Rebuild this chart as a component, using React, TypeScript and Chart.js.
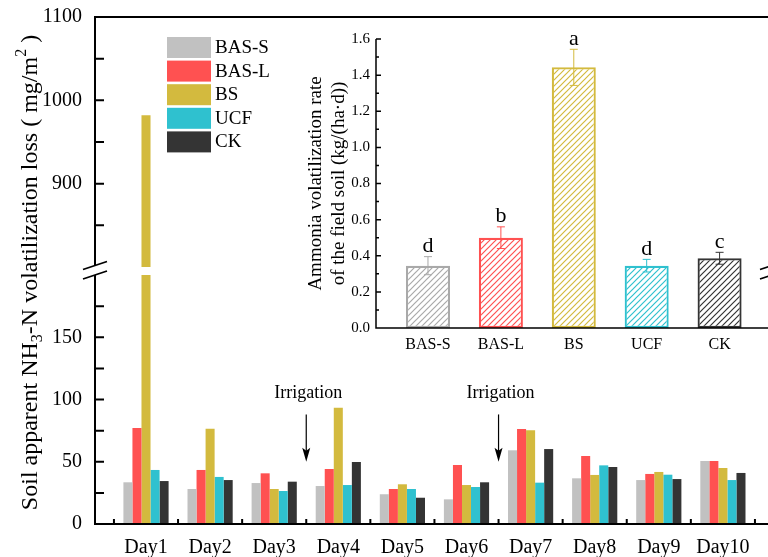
import React, { useEffect, useRef } from 'react';
import { Chart, registerables, LinearScale } from 'chart.js';

const FONT = '"Liberation Serif", "Times New Roman", Times, serif';

// ---------- main chart data ----------
const days = ['Day1', 'Day2', 'Day3', 'Day4', 'Day5', 'Day6', 'Day7', 'Day8', 'Day9', 'Day10'];
const seriesNames = ['BAS-S', 'BAS-L', 'BS', 'UCF', 'CK'];
const seriesColors = ['#c1c1c1', '#ff5151', '#d3ba3e', '#2fc1cf', '#343434'];
const basS = [33.5, 28.1, 32.9, 30.5, 23.9, 19.8, 59.2, 36.7, 35.3, 50.6];
const basL = [77.1, 43.4, 40.7, 44.2, 28.1, 47.4, 76.3, 54.6, 40.2, 50.6];
const bs = [982, 76.5, 28.1, 93.4, 31.9, 31.3, 75.3, 39.4, 41.8, 45.0];
const ucf = [43.4, 37.8, 26.5, 31.3, 28.1, 29.7, 33.2, 47.1, 39.6, 35.3];
const ck = [34.5, 35.3, 34.0, 49.8, 21.1, 33.5, 60.2, 45.8, 36.1, 41.0];
const seriesValues = [basS, basL, bs, ucf, ck];

const yMajorTicks = [0, 50, 100, 150, 900, 1000, 1100];
const yMinorTicks = [25, 75, 125, 175, 850, 950, 1050];
const breakLow = 200;
const breakHigh = 800;
const yMax = 1100;
const lowerFrac = 249 / 507;
const upperFrac = 257 / 507;

const xMin = 0.2044;
const xMax = 10.766;
const xTickMarks = [0.5, 1.5, 2.5, 3.5, 4.5, 5.5, 6.5, 7.5, 8.5, 9.5, 10.5];

const irrigationX = [3.5, 6.5];
const irrigationLabel = 'Irrigation';
const irrigationArrowTop = 88;
const irrigationArrowBottom = 50;
const irrigationTextY = 105;

// ---------- inset data ----------
const insetCategories = ['BAS-S', 'BAS-L', 'BS', 'UCF', 'CK'];
const insetValues = [0.345, 0.5, 1.443, 0.345, 0.386];
const insetErrors = [0.05, 0.06, 0.1, 0.035, 0.033];
const insetLetters = ['d', 'b', 'a', 'd', 'c'];
const insetColors = ['#a9a9a9', '#ff5151', '#d3ba3e', '#2fc1cf', '#343434'];
const insetYTicks = [0, 0.2, 0.4, 0.6, 0.8, 1.0, 1.2, 1.4, 1.6];
const insetYMinor = [0.1, 0.3, 0.5, 0.7, 0.9, 1.1, 1.3, 1.5];
const insetXMin = -0.713;
const insetXMax = 4.719;

class BrokenLinearScale extends LinearScale {
  static id = 'brokenLinear';
  static defaults = (LinearScale as any).defaults;
  getPixelForValue(value: number) {
    const H = (this as any).bottom - (this as any).top;
    let f: number;
    if (value <= breakLow) f = (value / breakLow) * lowerFrac;
    else if (value >= breakHigh) f = upperFrac + ((value - breakHigh) / (yMax - breakHigh)) * (1 - upperFrac);
    else f = lowerFrac + ((value - breakLow) / (breakHigh - breakLow)) * (upperFrac - lowerFrac);
    return (this as any).bottom - f * H;
  }
  getValueForPixel(pixel: number) {
    const H = (this as any).bottom - (this as any).top;
    const f = ((this as any).bottom - pixel) / H;
    if (f <= lowerFrac) return (f / lowerFrac) * breakLow;
    if (f >= upperFrac) return breakHigh + ((f - upperFrac) / (1 - upperFrac)) * (yMax - breakHigh);
    return breakLow + ((f - lowerFrac) / (upperFrac - lowerFrac)) * (breakHigh - breakLow);
  }
}

Chart.register(...registerables, BrokenLinearScale as any);

function drawRichRotated(ctx: CanvasRenderingContext2D, cx: number, cy: number, parts: { t: string; k: string }[], size: number) {
  ctx.save();
  ctx.translate(cx, cy);
  ctx.rotate(-Math.PI / 2);
  ctx.textBaseline = 'middle';
  ctx.textAlign = 'left';
  const small = Math.round(size * 0.65);
  const widths = parts.map((p) => {
    ctx.font = `${p.k === 'n' ? size : small}px ${FONT}`;
    return ctx.measureText(p.t).width;
  });
  const total = widths.reduce((a, b) => a + b, 0);
  let x = -total / 2;
  parts.forEach((p, i) => {
    ctx.font = `${p.k === 'n' ? size : small}px ${FONT}`;
    const dy = p.k === 'sub' ? size * 0.3 : p.k === 'sup' ? -size * 0.38 : 0;
    ctx.fillStyle = '#000';
    ctx.fillText(p.t, x, dy);
    x += widths[i];
  });
  ctx.restore();
}

const mainDecor = {
  id: 'mainDecor',
  afterDatasetsDraw(chart: any) {
    const { ctx, chartArea, scales } = chart;
    const { left, right, top, bottom } = chartArea;
    const x = scales.x;
    const y = scales.y;
    const pLow = y.getPixelForValue(breakLow);
    const pHigh = y.getPixelForValue(breakHigh);
    ctx.save();
    // gap in broken bars
    ctx.fillStyle = '#ffffff';
    ctx.fillRect(left + 1, pHigh, right - left - 2, pLow - pHigh);

    // axes
    ctx.strokeStyle = '#000';
    ctx.lineWidth = 2;
    ctx.lineCap = 'butt';
    ctx.beginPath();
    ctx.moveTo(left - 1, bottom);
    ctx.lineTo(right + 1, bottom);
    ctx.moveTo(left - 1, top);
    ctx.lineTo(right + 1, top);
    [left, right].forEach((ax) => {
      ctx.moveTo(ax, bottom);
      ctx.lineTo(ax, pLow);
      ctx.moveTo(ax, pHigh - 1.5);
      ctx.lineTo(ax, top);
    });
    ctx.stroke();

    // break slashes
    ctx.lineWidth = 1.8;
    ctx.beginPath();
    [left, right].forEach((ax) => {
      [pLow, pHigh - 1.5].forEach((py) => {
        ctx.moveTo(ax - 12, py + 4);
        ctx.lineTo(ax + 12, py - 4);
      });
    });
    ctx.stroke();

    // inward y ticks
    ctx.lineWidth = 2;
    ctx.beginPath();
    [...yMajorTicks, ...yMinorTicks].forEach((v) => {
      const py = y.getPixelForValue(v);
      ctx.moveTo(left, py);
      ctx.lineTo(left + 9, py);
    });
    // inward x ticks
    xTickMarks.forEach((v) => {
      const px = x.getPixelForValue(v);
      ctx.moveTo(px, bottom);
      ctx.lineTo(px, bottom - 5);
    });
    ctx.stroke();

    // irrigation arrows
    ctx.fillStyle = '#000';
    ctx.lineWidth = 1.2;
    irrigationX.forEach((v) => {
      const px = x.getPixelForValue(v);
      const pt = y.getPixelForValue(irrigationArrowTop);
      const pb = y.getPixelForValue(irrigationArrowBottom);
      ctx.beginPath();
      ctx.moveTo(px, pt);
      ctx.lineTo(px, pb - 10);
      ctx.stroke();
      ctx.beginPath();
      ctx.moveTo(px, pb);
      ctx.lineTo(px - 4, pb - 14);
      ctx.lineTo(px, pb - 11);
      ctx.lineTo(px + 4, pb - 14);
      ctx.closePath();
      ctx.fill();
      ctx.font = `18px ${FONT}`;
      ctx.textAlign = 'center';
      ctx.textBaseline = 'middle';
      ctx.fillText(irrigationLabel, px + 2, y.getPixelForValue(irrigationTextY));
    });

    // legend
    const lgX = left + 72;
    const lgY = top + 20;
    chart.data.datasets.forEach((ds: any, i: number) => {
      const by = lgY + i * 23.6;
      ctx.fillStyle = ds.backgroundColor;
      ctx.fillRect(lgX, by, 44, 21);
      ctx.fillStyle = '#000';
      ctx.font = `19px ${FONT}`;
      ctx.textAlign = 'left';
      ctx.textBaseline = 'middle';
      ctx.fillText(ds.label, lgX + 48, by + 11);
    });

    // y title
    drawRichRotated(
      ctx,
      31,
      (top + bottom) / 2 + 2,
      [
        { t: 'Soil apparent NH', k: 'n' },
        { t: '3', k: 'sub' },
        { t: '-N volatilization loss ( mg/m', k: 'n' },
        { t: '2', k: 'sup' },
        { t: ' )', k: 'n' },
      ],
      24
    );
    ctx.restore();
  },
};

const insetDecor = {
  id: 'insetDecor',
  afterDatasetsDraw(chart: any) {
    const { ctx, chartArea, scales } = chart;
    const { left, right, top, bottom } = chartArea;
    const x = scales.x;
    const y = scales.y;
    ctx.save();
    ctx.strokeStyle = '#000';
    ctx.lineWidth = 1.5;
    ctx.beginPath();
    ctx.moveTo(left, bottom);
    ctx.lineTo(right + 2, bottom);
    ctx.moveTo(left, bottom + 0.75);
    ctx.lineTo(left, top);
    insetYTicks.forEach((v) => {
      const py = y.getPixelForValue(v);
      ctx.moveTo(left, py);
      ctx.lineTo(left + 5, py);
    });
    insetYMinor.forEach((v) => {
      const py = y.getPixelForValue(v);
      ctx.moveTo(left, py);
      ctx.lineTo(left + 3, py);
    });
    ctx.stroke();

    // error bars and letters
    insetValues.forEach((v, i) => {
      const px = x.getPixelForValue(i);
      const pTop = y.getPixelForValue(v + insetErrors[i]);
      const pBot = y.getPixelForValue(v - insetErrors[i]);
      ctx.strokeStyle = insetColors[i];
      ctx.lineWidth = 1;
      ctx.beginPath();
      ctx.moveTo(px, pTop);
      ctx.lineTo(px, pBot);
      ctx.moveTo(px - 4, pTop);
      ctx.lineTo(px + 4, pTop);
      ctx.moveTo(px - 4, pBot);
      ctx.lineTo(px + 4, pBot);
      ctx.stroke();
      ctx.fillStyle = '#000';
      ctx.font = `22px ${FONT}`;
      ctx.textAlign = 'center';
      ctx.textBaseline = 'alphabetic';
      ctx.fillText(insetLetters[i], px, pTop - 4.5);
    });

    // title
    ctx.fillStyle = '#000';
    ctx.font = `19px ${FONT}`;
    ctx.textAlign = 'center';
    ctx.textBaseline = 'middle';
    const cy = (top + bottom) / 2;
    ctx.save();
    ctx.translate(left - 60, cy);
    ctx.rotate(-Math.PI / 2);
    ctx.fillText('Ammonia volatilization rate', 0, 0);
    ctx.restore();
    ctx.save();
    ctx.translate(left - 37, cy);
    ctx.rotate(-Math.PI / 2);
    ctx.fillText('of the field soil (kg/(ha\u00b7d))', 0, 0);
    ctx.restore();
    ctx.restore();
  },
};

function makeHatch(ctx: CanvasRenderingContext2D, color: string) {
  const size = 6;
  const c = document.createElement('canvas');
  c.width = size;
  c.height = size;
  const g = c.getContext('2d')!;
  g.fillStyle = '#ffffff';
  g.fillRect(0, 0, size, size);
  g.strokeStyle = color;
  g.lineWidth = 1.2;
  g.beginPath();
  g.moveTo(0, size);
  g.lineTo(size, 0);
  g.moveTo(-2, 2);
  g.lineTo(2, -2);
  g.moveTo(size - 2, size + 2);
  g.lineTo(size + 2, size - 2);
  g.stroke();
  return ctx.createPattern(c, 'repeat');
}

const zeroYPad = (s: any) => {
  s.paddingTop = 0;
  s.paddingBottom = 0;
};
const zeroXPad = (s: any) => {
  s.paddingLeft = 0;
  s.paddingRight = 0;
};

export default function App() {
  const mainRef = useRef<HTMLCanvasElement>(null);
  const insetRef = useRef<HTMLCanvasElement>(null);

  useEffect(() => {
    document.body.style.margin = '0';
    document.body.style.overflow = 'hidden';
    const mainChart = new Chart(mainRef.current!, {
      type: 'bar',
      data: {
        datasets: seriesNames.map((name, si) => ({
          label: name,
          data: days.map((_, i) => ({ x: i + 1, y: seriesValues[si][i] })),
          backgroundColor: seriesColors[si],
          borderWidth: 0,
          categoryPercentage: 0.705,
          barPercentage: 1,
        })),
      },
      plugins: [mainDecor],
      options: {
        responsive: false,
        animation: false,
        devicePixelRatio: 1,
        layout: { padding: { top: 17, right: 8, left: 0, bottom: 0 } },
        plugins: { legend: { display: false }, tooltip: { enabled: false } },
        scales: {
          x: {
            type: 'linear',
            min: xMin,
            max: xMax,
            offset: false,
            afterBuildTicks: (s: any) => {
              s.ticks = days.map((_, i) => ({ value: i + 1 }));
            },
            afterFit: (s: any) => {
              s.height = 33;
              zeroXPad(s);
            },
            grid: { display: false, drawTicks: false },
            border: { display: false },
            ticks: {
              autoSkip: false,
              maxRotation: 0,
              padding: 12,
              color: '#000',
              font: { family: FONT, size: 20 },
              callback: (v: any) => days[Math.round(Number(v)) - 1] ?? '',
            },
          },
          y: {
            type: 'brokenLinear' as any,
            min: 0,
            max: yMax,
            afterBuildTicks: (s: any) => {
              s.ticks = yMajorTicks.map((v) => ({ value: v }));
            },
            afterFit: (s: any) => {
              s.width = 95;
              zeroYPad(s);
            },
            grid: { display: false, drawTicks: false },
            border: { display: false },
            ticks: {
              autoSkip: false,
              padding: 13,
              color: '#000',
              font: { family: FONT, size: 20 },
              callback: (v: any) => String(v),
            },
          },
        },
      } as any,
    });

    const ictx = insetRef.current!.getContext('2d')!;
    const patterns = insetColors.map((c) => makeHatch(ictx, c));
    const insetChart = new Chart(insetRef.current!, {
      type: 'bar',
      data: {
        datasets: [
          {
            label: 'rate',
            data: insetValues.map((v, i) => ({ x: i, y: v })),
            backgroundColor: patterns as any,
            borderColor: insetColors,
            borderWidth: 2.2,
            borderSkipped: false,
            categoryPercentage: 0.604,
            barPercentage: 1,
          },
        ],
      },
      plugins: [insetDecor],
      options: {
        responsive: false,
        animation: false,
        devicePixelRatio: 1,
        layout: { padding: { top: 19, right: 8, left: 0, bottom: 0 } },
        plugins: { legend: { display: false }, tooltip: { enabled: false } },
        scales: {
          x: {
            type: 'linear',
            min: insetXMin,
            max: insetXMax,
            offset: false,
            afterBuildTicks: (s: any) => {
              s.ticks = insetCategories.map((_, i) => ({ value: i }));
            },
            afterFit: (s: any) => {
              s.height = 32;
              zeroXPad(s);
            },
            grid: { display: false, drawTicks: false },
            border: { display: false },
            ticks: {
              autoSkip: false,
              maxRotation: 0,
              padding: 7,
              color: '#000',
              font: { family: FONT, size: 16 },
              callback: (v: any) => insetCategories[Math.round(Number(v))] ?? '',
            },
          },
          y: {
            type: 'linear',
            min: 0,
            max: 1.6,
            afterBuildTicks: (s: any) => {
              s.ticks = insetYTicks.map((v) => ({ value: v }));
            },
            afterFit: (s: any) => {
              s.width = 86;
              zeroYPad(s);
            },
            grid: { display: false, drawTicks: false },
            border: { display: false },
            ticks: {
              autoSkip: false,
              padding: 6,
              color: '#000',
              font: { family: FONT, size: 15 },
              callback: (v: any) => Number(v).toFixed(1),
            },
          },
        },
      } as any,
    });

    return () => {
      mainChart.destroy();
      insetChart.destroy();
    };
  }, []);

  return (
    <div style={{ position: 'fixed', left: 0, top: 0, width: 768, height: 557, overflow: 'hidden', background: '#fff' }}>
      <canvas ref={mainRef} width={780} height={557} style={{ position: 'absolute', left: 0, top: 0, width: 780, height: 557 }} />
      <canvas ref={insetRef} width={490} height={340} style={{ position: 'absolute', left: 290, top: 20, width: 490, height: 340 }} />
    </div>
  );
}
